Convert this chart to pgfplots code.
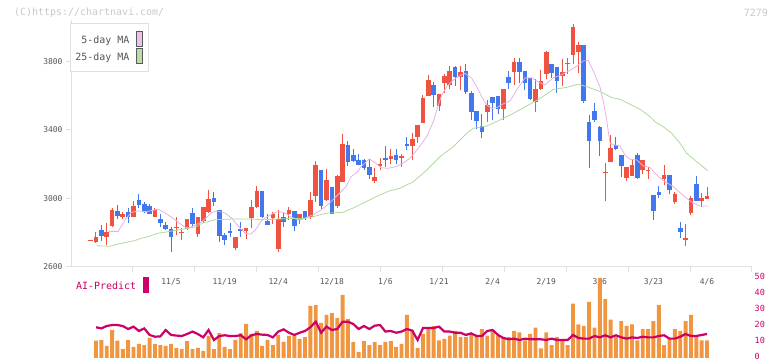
\documentclass[border=0pt]{standalone}
\usepackage{pgfplots}
\usepackage{pgfplotstable}
\usepackage{fontspec}
\pgfplotsset{compat=1.18}
\setmonofont{DejaVu Sans Mono}
\definecolor{cred}{RGB}{240,82,66}
\definecolor{cblue}{RGB}{66,120,238}
\definecolor{volor}{RGB}{240,150,64}
\definecolor{aimag}{RGB}{204,0,102}
\definecolor{mafive}{RGB}{232,176,232}
\definecolor{matwf}{RGB}{176,218,156}
\definecolor{axgray}{RGB}{224,224,224}
\definecolor{lblgray}{RGB}{85,85,85}
\definecolor{cpgray}{RGB}{200,200,200}

\pgfplotstableread{
i o h l c
-1 2754 2756 2756 2758
0 2748 2803 2742 2775
1 2814 2845 2754 2783
2 2777 2857 2730 2804
3 2841 2945 2835 2933
4 2927 2962 2882 2900
5 2890 2921 2882 2911
6 2921 2946 2855 2894
7 2894 2985 2890 2956
8 2991 3026 2945 2962
9 2968 2978 2914 2927
10 2956 2968 2909 2911
11 2894 2943 2894 2933
12 2880 2909 2835 2859
13 2845 2861 2814 2824
14 2822 2832 2689 2777
15 2830 2892 2787 2834
16 2797 2826 2759 2806
17 2824 2880 2816 2879
18 2917 2946 2826 2849
19 2794 2892 2777 2892
20 2870 2950 2859 2950
21 2923 3050 2917 2997
22 3003 3038 2958 2981
23 2933 2933 2748 2783
24 2787 2800 2728 2758
25 2810 2859 2777 2799
26 2713 2775 2701 2775
27 2822 2865 2775 2812
28 2812 2828 2765 2828
29 2886 2991 2830 2950
30 2950 3073 2946 3046
31 3046 3046 2888 2892
32 2869 2909 2845 2845
33 2888 2921 2853 2909
34 2707 2933 2689 2880
35 2892 2917 2835 2865
36 2911 2950 2874 2933
37 2927 2927 2810 2841
38 2874 2909 2851 2909
39 2927 2927 2874 2886
40 2892 3038 2879 2991
41 3016 3219 2981 3196
42 3166 3166 2937 2958
43 2991 3172 2985 3108
44 3067 3067 2909 2909
45 2958 3137 2943 3131
46 3098 3377 3098 3318
47 3312 3336 3192 3215
48 3254 3289 3215 3219
49 3225 3260 3196 3196
50 3225 3231 3166 3180
51 3184 3231 3116 3139
52 3104 3178 3092 3126
53 3192 3236 3168 3201
54 3236 3307 3184 3227
55 3232 3289 3201 3248
56 3254 3289 3201 3227
57 3238 3260 3186 3248
58 3318 3361 3283 3307
59 3307 3381 3225 3347
60 3361 3429 3326 3429
61 3441 3604 3441 3589
62 3598 3721 3598 3692
63 3663 3680 3534 3604
64 3540 3610 3511 3610
65 3674 3727 3616 3715
66 3663 3774 3639 3744
67 3768 3774 3657 3709
68 3709 3774 3633 3739
69 3744 3785 3610 3622
70 3616 3628 3458 3505
71 3511 3511 3406 3452
72 3423 3493 3353 3388
73 3505 3575 3447 3546
74 3593 3593 3458 3558
75 3598 3598 3493 3523
76 3523 3639 3458 3639
77 3709 3744 3639 3674
78 3739 3820 3663 3797
79 3797 3820 3674 3739
80 3744 3744 3633 3674
81 3704 3704 3575 3581
82 3565 3698 3505 3639
83 3639 3750 3633 3686
84 3727 3861 3698 3855
85 3785 3785 3704 3733
86 3768 3768 3616 3686
87 3715 3815 3657 3739
88 3783 3820 3727 3787
89 3840 4019 3785 4001
90 3855 3914 3733 3896
91 3896 3896 3558 3569
92 3447 3488 3178 3337
93 3511 3558 3447 3458
94 3417 3423 3248 3337
95 3147 3207 2985 3151
96 3213 3371 3213 3295
97 3312 3359 3283 3289
98 3254 3254 3126 3190
99 3120 3184 3102 3184
100 3131 3231 3131 3196
101 3254 3266 3114 3120
102 3166 3225 3143 3225
103 3159 3184 3114 3163
104 3020 3020 2874 2927
105 3038 3073 3003 3020
106 3114 3196 3079 3137
107 3137 3137 3026 3050
108 2980 3038 2968 3026
109 2828 2863 2769 2804
110 2758 2851 2723 2769
111 2915 3015 2904 3003
112 3085 3131 2985 2985
113 2985 3032 2950 3003
114 2997 3067 2997 3015
}\candles

\pgfplotstableread{
i p
2.37 2808
4.10 2808
5.65 2884
6.59 2919
7.84 2927
9.38 2923
11.57 2937
12.5 2923
13.43 2904
14.37 2884
15.62 2855
16.55 2832
17.48 2829
18.53 2845
19.78 2865
21.64 2919
22.57 2927
24.12 2914
25.37 2884
26.62 2835
27.85 2797
28.79 2791
29.72 2816
30.97 2874
32.52 2904
33.77 2923
35.02 2919
36.25 2894
37.82 2874
38.56 2880
40.43 2904
41.98 2933
43.53 2972
45.09 3020
46.64 3069
47.57 3127
48.82 3156
49.44 3186
50.99 3231
52.24 3205
53.17 3180
54.42 3176
55.97 3186
57.22 3205
58.58 3235
60.13 3293
61.7 3361
62.93 3448
63.86 3546
64.5 3604
65.43 3653
66.66 3692
67.91 3717
68.84 3731
70.09 3702
71.03 3653
71.96 3594
72.89 3546
73.82 3527
74.76 3530
76.0 3553
77.24 3569
78.49 3635
80.04 3704
81.29 3704
82.52 3680
83.77 3664
85.32 3704
86.88 3723
88.12 3743
89.68 3772
90.91 3803
91.85 3806
92.78 3744
94.03 3651
94.68 3563
95.28 3458
95.9 3322
96.83 3312
97.76 3307
98.69 3254
99.63 3229
100.88 3225
102.11 3190
103.36 3182
104.29 3147
105.54 3112
106.47 3092
107.7 3069
108.96 3034
110.2 3001
111.44 2972
112.69 2956
114.12 2956
}\mafivetab

\pgfplotstableread{
i p
0.06 2724
2.56 2721
4.1 2734
5.65 2744
7.22 2754
8.45 2768
9.7 2777
11.57 2797
13.43 2806
15.3 2816
17.16 2826
18.71 2835
19.78 2855
22.26 2876
25.37 2880
28.49 2880
31.59 2876
34.09 2880
36.57 2884
38.12 2882
39.79 2888
42.91 2914
46.03 2919
47.89 2943
49.76 2972
52.24 3010
54.72 3044
56.72 3060
59.2 3098
61.7 3166
64.18 3244
66.66 3302
69.16 3381
70.39 3410
72.89 3423
75.37 3458
77.85 3497
80.35 3540
82.84 3584
85.32 3636
87.82 3649
89.98 3667
91.55 3653
94.03 3624
96.21 3589
97.76 3579
99.63 3550
101.49 3521
103.36 3478
104.29 3448
105.84 3419
107.41 3381
108.96 3322
110.2 3264
112.07 3215
114.12 3162
}\matwftab

\pgfplotstableread{
i vol ai
0 10.8 19.2
1 11.2 18.5
2 7.5 20
3 17.5 20.6
4 10.8 20.6
5 5.6 20
6 11.2 18.1
7 6.9 19.6
8 8.75 16.9
9 8.1 18.5
10 12.5 14.4
11 8.75 13.3
12 8.1 13.5
13 7.5 17.5
14 8.75 14.4
15 6.25 14
16 5.6 13.75
17 10.6 15
18 5.6 16.5
19 6.25 15
20 4.4 12.9
21 13.75 17.5
22 5.6 11.25
23 15.6 13.75
24 6.9 14.2
25 5.6 13.75
26 11.25 13.75
27 15.6 14.2
28 21.25 11.7
29 15 14.2
30 16.9 15
31 7.5 14.6
32 11.25 14.4
33 8.1 12.9
34 14.4 16.5
35 10 17.9
36 13.75 15.8
37 13.75 14.4
38 11.9 15.8
39 13.1 16.9
40 32.5 19.2
41 33.1 22.7
42 21.9 15.8
43 26.9 19.6
44 28.1 17.5
45 25 18.1
46 39.4 22.7
47 24.4 22.7
48 10 21.25
49 3.75 18.1
50 10.6 20
51 8.1 18.1
52 10 20.2
53 8.1 20.6
54 10 16.5
55 10.6 16.9
56 6.9 15.8
57 8.75 16.5
58 26.9 18.1
59 17.5 17.1
60 6.25 11.25
61 15 18.75
62 18 18.75
63 20 18.75
64 11 19.6
65 12 16.5
66 14 16.5
67 17 15.8
68 13 15.8
69 13 14.4
70 15 15.4
71 14 13.75
72 18 13.75
73 14 16.9
74 17 17.5
75 14 14.4
76 13 12.5
77 13 11.7
78 17 12.1
79 16 11.25
80 11 12.1
81 15 11.7
82 19 11.7
83 6 11.7
84 16 11.25
85 8 12.1
86 13 11.25
87 11 11.25
88 8 11.25
89 34 14.4
90 21 12.5
91 20 12.1
92 35 12.1
93 19 13.75
94 50 12.9
95 37 14.2
96 24 12.9
97 13 14.2
98 23 12.9
99 20 12.1
100 21 12.9
101 11 12.5
102 18 13.3
103 18 12.9
104 23 12.9
105 33 13.75
106 8 14.2
107 12 12.1
108 18 12.1
109 17 13.3
110 23 15
111 27 13.75
112 13 13.75
113 11 14.4
114 11 15
}\voltab

\begin{document}
\begin{tikzpicture}
\path[use as bounding box] (0bp,0bp) rectangle (772bp,361bp);
% ---------- price panel ----------
\begin{axis}[
  at={(71bp,94bp)}, anchor=south west,
  scale only axis, width=681bp, height=247bp,
  xmin=-4.664, xmax=122.388, ymin=2600, ymax=4042,
  axis x line*=bottom, axis y line*=left,
  axis line style={draw=axgray, line width=1bp, -},
  every tick/.style={draw=axgray, line width=1bp},
  tick align=outside, major tick length=5bp,
  xtick={6.884,18.43,29.98,41.53,53.08,64.63,76.17,87.72,99.27,110.82,122.37},
  xticklabels={},
  extra x ticks={14,24,34,44,54,64,74,84,94,104,114},
  extra x tick labels={11/5,11/19,12/4,12/18,1/6,1/21,2/4,2/19,3/6,3/23,4/6},
  extra x tick style={major tick length=0pt, tick label style={yshift=-8bp}},
  ytick={2600,3000,3400,3800},
  yticklabels={2600,3000,3400,3800},
  tick label style={font=\fontsize{8}{8}\selectfont\ttfamily, text=lblgray},
  clip=false,
]
% wicks
\addplot[draw=none, mark=none, forget plot,
  restrict expr to domain={\thisrow{c}-\thisrow{o}}{0:100000},
  error bars/.cd, y dir=plus, y explicit, error mark=none,
  error bar style={line width=1bp, draw=cred, solid}]
  table[x=i, y=l, y error plus expr={\thisrow{h}-\thisrow{l}}] {\candles};
\addplot[draw=none, mark=none, forget plot,
  restrict expr to domain={\thisrow{c}-\thisrow{o}}{-100000:-0.5},
  error bars/.cd, y dir=plus, y explicit, error mark=none,
  error bar style={line width=1bp, draw=cblue, solid}]
  table[x=i, y=l, y error plus expr={\thisrow{h}-\thisrow{l}}] {\candles};
% bodies
\addplot[draw=none, mark=none, forget plot,
  restrict expr to domain={\thisrow{c}-\thisrow{o}}{0:100000},
  error bars/.cd, y dir=plus, y explicit, error mark=none,
  error bar style={line width=4.6bp, draw=cred, solid}]
  table[x=i, y expr={min(\thisrow{o},\thisrow{c})}, y error plus expr={max(abs(\thisrow{c}-\thisrow{o}),6)}] {\candles};
\addplot[draw=none, mark=none, forget plot,
  restrict expr to domain={\thisrow{c}-\thisrow{o}}{-100000:-0.5},
  error bars/.cd, y dir=plus, y explicit, error mark=none,
  error bar style={line width=4.6bp, draw=cblue, solid}]
  table[x=i, y expr={min(\thisrow{o},\thisrow{c})}, y error plus expr={max(abs(\thisrow{c}-\thisrow{o}),6)}] {\candles};
% moving averages
\addplot[mafive, line width=0.8bp, mark=none] table[x=i, y=p] {\mafivetab};
\addplot[matwf, line width=0.8bp, mark=none] table[x=i, y=p] {\matwftab};
\end{axis}
% ---------- volume / AI panel ----------
\begin{axis}[
  at={(71bp,3bp)}, anchor=south west,
  scale only axis, width=681bp, height=80bp,
  xmin=-4.664, xmax=122.388, ymin=0, ymax=50,
  axis x line=none,
  axis y line*=right,
  y axis line style={draw=none},
  ytick={0,10,20,30,40,50},
  yticklabels={0,10,20,30,40,50},
  major tick length=0pt,
  yticklabel style={font=\fontsize{8.5}{8.5}\selectfont\ttfamily, text=aimag, anchor=west, xshift=2bp, yshift=1.2bp, inner sep=0.5bp},
  clip=false,
]
\addplot[ybar, bar width=3.9bp, fill=volor, draw=none] table[x=i, y=vol] {\voltab};
\addplot[aimag, line width=2.2bp, mark=none] table[x=i, y=ai] {\voltab};
\end{axis}
% ---------- decorations ----------
\node[anchor=west, inner sep=0pt, text=cpgray, font=\fontsize{10}{10}\selectfont\ttfamily] at (14bp,348.5bp) {(C)https://chartnavi.com/};
\node[anchor=east, inner sep=0pt, text=cpgray, font=\fontsize{10}{10}\selectfont\ttfamily] at (768bp,348.5bp) {7279};
\draw[axgray, fill=white, line width=1bp] (70.3bp,289.3bp) rectangle (148.3bp,337bp);
\node[anchor=east, inner sep=0pt, text=lblgray, font=\fontsize{10}{10}\selectfont\ttfamily] at (129.5bp,320.3bp) {5-day MA};
\node[anchor=east, inner sep=0pt, text=lblgray, font=\fontsize{10}{10}\selectfont\ttfamily] at (129.5bp,303.7bp) {25-day MA};
\draw[draw=black!65, fill=mafive!80, line width=0.8bp] (136bp,314.5bp) rectangle (142.7bp,330bp);
\draw[draw=black!65, fill=matwf!90, line width=0.8bp] (136bp,297.8bp) rectangle (142.7bp,312.7bp);
\node[anchor=west, inner sep=0pt, text=aimag, font=\fontsize{10}{10}\selectfont\ttfamily] at (76bp,75bp) {AI-Predict};
\fill[aimag] (142.7bp,68.3bp) rectangle (148.7bp,83.7bp);
\end{tikzpicture}
\end{document}
